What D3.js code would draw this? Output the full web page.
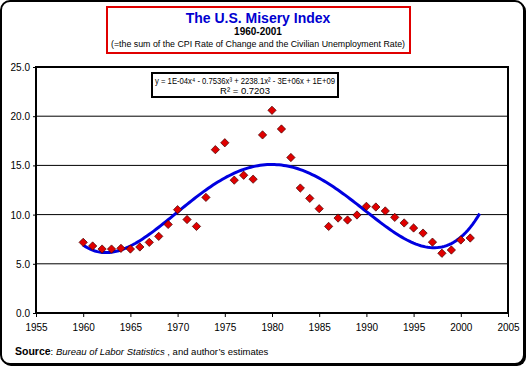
<!DOCTYPE html>
<html>
<head>
<meta charset="utf-8">
<script src="https://cdn.jsdelivr.net/npm/d3@7"></script>
<style>
  body { margin:0; background:#fff; }
  svg text { font-family: Arial, "Liberation Sans", sans-serif; }
</style>
</head>
<body>
<div id="canvas"></div>
<script>
// data
var years = [1960,1961,1962,1963,1964,1965,1966,1967,1968,1969,
             1970,1971,1972,1973,1974,1975,1976,1977,1978,1979,
             1980,1981,1982,1983,1984,1985,1986,1987,1988,1989,
             1990,1991,1992,1993,1994,1995,1996,1997,1998,1999,
             2000,2001];
var misery = [7.18,6.81,6.50,6.50,6.57,6.50,6.71,7.18,7.79,9.00,
              10.50,9.50,8.80,11.75,16.60,17.30,13.50,14.00,13.60,18.10,
              20.60,18.70,15.80,12.70,11.65,10.60,8.80,9.65,9.45,9.96,
              10.84,10.77,10.37,9.72,9.15,8.64,8.12,7.20,6.07,6.40,
              7.42,7.62];
var xTicks = [1955,1960,1965,1970,1975,1980,1985,1990,1995,2000,2005];
var yTicks = [0,5,10,15,20,25];
var trendEnd = 2002;
var eqLines = ['y = 1E-04x\u2074 - 0.7536x\u00b3 + 2238.1x\u00b2 - 3E+06x + 1E+09', 'R\u00b2 = 0.7203'];

var W = 528, H = 368;
var m = {t:67, r:20, b:55, l:36};
var w = 508 - m.l, h = 313 - m.t;

var svg = d3.select('#canvas').append('svg')
    .attr('width', W).attr('height', H);

// outer frame, heavier on the right and bottom
svg.append('rect')
    .attr('x',2).attr('y',2).attr('width',524).attr('height',364)
    .attr('rx',9).attr('fill','#000');
svg.append('rect')
    .attr('x',1).attr('y',1).attr('width',523).attr('height',363)
    .attr('rx',9).attr('fill','#fff').attr('stroke','#000').attr('stroke-width',2);

// title box
svg.append('rect')
    .attr('x',107).attr('y',7).attr('width',303).attr('height',46)
    .attr('fill','none').attr('stroke','#e00000').attr('stroke-width',2);
svg.append('text').attr('x',258).attr('y',23).attr('text-anchor','middle')
    .attr('font-size',14).attr('font-weight','bold').attr('fill','#0000d0')
    .text('The U.S. Misery Index');
svg.append('text').attr('x',258).attr('y',35).attr('text-anchor','middle')
    .attr('font-size',10).attr('font-weight','bold')
    .text('1960-2001');
svg.append('text').attr('x',258).attr('y',47).attr('text-anchor','middle')
    .attr('font-size',9.2).attr('textLength',294).attr('lengthAdjust','spacingAndGlyphs')
    .text('(=the sum of the CPI Rate of Change and the Civilian Unemployment Rate)');

var plot = svg.append('g').attr('transform','translate(' + m.l + ',' + m.t + ')');

var x = d3.scaleLinear().domain([1955,2005]).range([0,w]);
var y = d3.scaleLinear().domain([0,25]).range([h,0]);

// gridlines
plot.selectAll('.grid').data(yTicks.slice(1,-1)).enter()
    .append('line')
    .attr('x1',0).attr('x2',w)
    .attr('y1',function(d){return y(d);}).attr('y2',function(d){return y(d);})
    .attr('stroke','#000').attr('stroke-width',1);

// axes
var axisX = d3.axisBottom(x).tickValues(xTicks).tickSize(4).tickFormat(d3.format('d'));
var axisY = d3.axisLeft(y).tickValues(yTicks).tickSize(3).tickFormat(d3.format('.1f'));
var gx = plot.append('g').attr('transform','translate(0,' + h + ')').call(axisX);
var gy = plot.append('g').call(axisY);
[gx, gy].forEach(function(g){
  g.select('.domain').remove();
  g.selectAll('text').attr('font-size',10).attr('fill','#000')
    .style('font-family','Arial, "Liberation Sans", sans-serif');
  g.selectAll('line').attr('stroke','#000');
});
gx.selectAll('text').attr('dy','1.1em');
gy.selectAll('text').attr('x',-6).attr('dy','0.35em');

// plot border
plot.append('rect').attr('x',0).attr('y',0).attr('width',w).attr('height',h)
    .attr('fill','none').attr('stroke','#000').attr('stroke-width',2);

// 4th order polynomial trendline (least squares, x centred on 1980)
function polyfit(xs, ys, deg) {
  var n = deg + 1, A = [], i, j, k;
  for (i = 0; i < n; i++) { A.push(new Array(n + 1).fill(0)); }
  xs.forEach(function(xv, p){
    for (i = 0; i < n; i++) {
      for (j = 0; j < n; j++) A[i][j] += Math.pow(xv, i + j);
      A[i][n] += ys[p] * Math.pow(xv, i);
    }
  });
  for (i = 0; i < n; i++) {
    var piv = i;
    for (k = i + 1; k < n; k++) if (Math.abs(A[k][i]) > Math.abs(A[piv][i])) piv = k;
    var tmp = A[i]; A[i] = A[piv]; A[piv] = tmp;
    for (k = i + 1; k < n; k++) {
      var f = A[k][i] / A[i][i];
      for (j = i; j <= n; j++) A[k][j] -= f * A[i][j];
    }
  }
  var c = new Array(n).fill(0);
  for (i = n - 1; i >= 0; i--) {
    var s = A[i][n];
    for (j = i + 1; j < n; j++) s -= A[i][j] * c[j];
    c[i] = s / A[i][i];
  }
  return c;
}
var coef = polyfit(years.map(function(d){return d - 1980;}), misery, 4);
function trend(yr) {
  var t = yr - 1980;
  return coef.reduce(function(s, c, i){ return s + c * Math.pow(t, i); }, 0);
}
var trendYears = d3.range(years[0], trendEnd + 0.001, 0.25);
plot.append('path')
    .datum(trendYears)
    .attr('d', d3.line().x(function(d){return x(d);}).y(function(d){return y(trend(d));}))
    .attr('fill','none').attr('stroke','#0000e0').attr('stroke-width',3);

// diamond markers
var diamond = d3.symbol().type(d3.symbolDiamond2).size(44);
plot.selectAll('.pt').data(years).enter()
    .append('path')
    .attr('d', diamond)
    .attr('transform', function(d,i){ return 'translate(' + x(d) + ',' + y(misery[i]) + ')'; })
    .attr('fill','#e00000').attr('stroke','#400000').attr('stroke-width',0.7);

// equation label
var eq = svg.append('g');
eq.append('rect').attr('x',152).attr('y',73).attr('width',186).attr('height',24)
    .attr('fill','#fff').attr('stroke','#000').attr('stroke-width',2);
eq.append('text').attr('x',245).attr('y',84).attr('text-anchor','middle')
    .attr('font-size',9.5).attr('textLength',180).attr('lengthAdjust','spacingAndGlyphs')
    .text(eqLines[0]);
eq.append('text').attr('x',245).attr('y',94).attr('text-anchor','middle')
    .attr('font-size',9.5).text(eqLines[1]);

// source note
var src = svg.append('text').attr('x',15).attr('y',355).attr('font-size',9.5);
src.append('tspan').attr('font-weight','bold').attr('font-size',10.5).text('Source');
src.append('tspan').text(':  ');
src.append('tspan').attr('font-style','italic').text('Bureau of Labor Statistics');
src.append('tspan').text('  , and author\u2019s estimates');
</script>
</body>
</html>
